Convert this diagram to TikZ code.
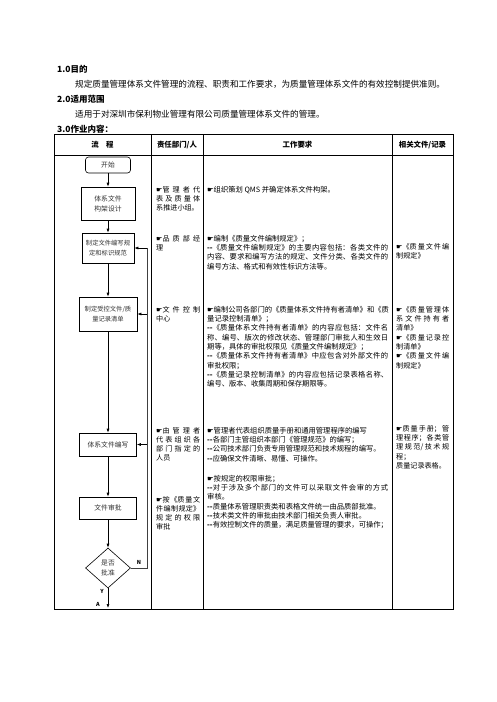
\documentclass[tikz,border=0pt]{standalone}
\usepackage{fontspec}
\setmainfont{Noto Sans CJK SC}
\newfontfamily\symf{DejaVu Sans}
\usetikzlibrary{arrows.meta,shapes.geometric}
\XeTeXlinebreaklocale "zh"
\XeTeXlinebreakskip=0pt plus 3pt
\XeTeXlinebreakpenalty=10000
\newcommand\hd{{\symf\char"261B}}
\newcommand\dd{{\bfseries -{}-}}
\begin{document}
\begin{tikzpicture}[x=1pt,y=-1pt,
  tline/.style={line width=0.9pt},
  flowbox/.style={draw, line width=0.6pt, inner sep=1pt, align=center, font=\fontsize{6.8}{10}\selectfont, text=black!80},
  arr/.style={-{Latex[length=4pt,width=3pt]}, line width=0.6pt},
  loopline/.style={line width=0.6pt, draw=black!75},
  head/.style={font=\fontsize{7.4}{9}\selectfont\bfseries, inner sep=0},
  sect/.style={anchor=west, inner sep=0, font=\fontsize{8.5}{10}\selectfont\bfseries},
  body/.style={anchor=west, inner sep=0, font=\fontsize{8.6}{10}\selectfont},
  ctwo/.style={anchor=north west, inner sep=0, text width=44pt, align=justify, font=\fontsize{7.1}{9.2}\selectfont},
  cthree/.style={anchor=north west, inner sep=0, text width=181pt, align=justify, font=\fontsize{7.3}{9.3}\selectfont},
  cfour/.style={anchor=north west, inner sep=0, text width=53pt, align=justify, font=\fontsize{7.1}{9.3}\selectfont},
  lbl/.style={inner sep=0, font=\fontsize{5.5}{6}\selectfont\bfseries}
]
\useasboundingbox (0,0) rectangle (496,702);
\fill[white] (0,0) rectangle (496,702);

% section texts
\node[sect] (s1) at (57,69) {1.0目的};
\node[body] (t1) at (75,84) {规定质量管理体系文件管理的流程、职责和工作要求，为质量管理体系文件的有效控制提供准则。};
\node[sect] (s2) at (57,99) {2.0适用范围};
\node[body] (t2) at (75,114) {适用于对深圳市保利物业管理有限公司质量管理体系文件的管理。};
\node[sect] (s3) at (57,129) {3.0作业内容：};

% table
\draw[tline] (54,134) rectangle (453,609);
\draw[tline] (54,155) -- (453,155);
\draw[tline] (151,134) -- (151,609);
\draw[tline] (203,134) -- (203,609);
\draw[tline] (392,134) -- (392,609);

\node[head] (h1) at (102.5,145) {流\hspace{1em}程};
\node[head] (h2) at (177,145) {责任部门/人};
\node[head] (h3) at (297.5,145) {工作要求};
\node[head] (h4) at (422.5,145) {相关文件/记录};

% flow chart
\node[flowbox, rounded corners=3pt, minimum width=45pt, minimum height=16pt] (st) at (108,165) {开始};
\node[flowbox, minimum width=54pt, minimum height=33pt] (b2) at (108,203.5) {体系文件\\构架设计};
\node[flowbox, minimum width=52pt, minimum height=30pt, font=\fontsize{6.3}{10}\selectfont] (b3) at (108,248) {制定文件编写规\\定和标识规范};
\node[flowbox, minimum width=58pt, minimum height=34pt, font=\fontsize{6.3}{10}\selectfont] (b4) at (108,314) {制定受控文件/质\\量记录清单};
\node[flowbox, minimum width=57pt, minimum height=23pt] (b5) at (108,444.5) {体系文件编写};
\node[flowbox, minimum width=57pt, minimum height=22pt] (b6) at (108,508) {文件审批};
\node[flowbox, shape=diamond, minimum width=45pt, minimum height=40pt, inner sep=0pt] (dm) at (108,568) {是否\\批准};
\coordinate (lp) at (147,0);
\coordinate (endp) at (108,608);

\draw[arr] (st) -- (b2);
\draw[arr] (b2) -- (b3);
\draw[arr] (b3) -- (b4);
\draw[arr] (b4) -- (b5);
\draw[arr] (b5) -- (b6);
\draw[arr] (b6) -- (dm);
\draw[arr] (dm.south) -- (endp);
\draw[loopline] (dm.east) -- (dm.east -| lp) -- (b3.east -| lp);
\draw[arr] (b3.east -| lp) -- (b3.east);
\draw[arr] (b4.east -| lp) -- (b4.east);
\draw[arr] (b5.east -| lp) -- (b5.east);
\node[lbl] (nl) at (139,562) {N};
\node[lbl] (yl) at (102,591) {Y};
\node[lbl] (al) at (98,604) {A};

% column 2
\node[ctwo] (r1) at (156,186) {\hd 管理者代\linebreak 表及质量体\linebreak 系推进小组。};
\node[ctwo] (r2) at (156,235) {\hd 品质部经\linebreak 理};
\node[ctwo] (r3) at (156,306) {\hd 文件控制\linebreak 中心};
\node[ctwo] (r4) at (156,427) {\hd 由管理者\linebreak 代表组织各\linebreak 部门指定的\linebreak 人员};
\node[ctwo] (r5) at (156,496) {\hd 按《质量文\linebreak 件编制规定》\linebreak 规定的权限\linebreak 审批};

% column 3
\node[cthree] (w1) at (207,186) {\hd 组织策划 QMS 并确定体系文件构架。};
\node[cthree] (w2) at (207,235) {\hd 编制《质量文件编制规定》；\\
\dd《质量文件编制规定》的主要内容包括：各类文件的\linebreak 内容、要求和编写方法的规定、文件分类、各类文件的\linebreak 编号方法、格式和有效性标识方法等。};
\node[cthree] (w3) at (207,306) {\hd 编制公司各部门的《质量体系文件持有者清单》和《质\linebreak 量记录控制清单》；\\
\dd《质量体系文件持有者清单》的内容应包括：文件名\linebreak 称、编号、版次的修改状态、管理部门审批人和生效日\linebreak 期等，具体的审批权限见《质量文件编制规定》；\\
\dd《质量体系文件持有者清单》中应包含对外部文件的\linebreak 审批权限；\\
\dd《质量记录控制清单》的内容应包括记录表格名称、\linebreak 编号、版本、收集周期和保存期限等。};
\node[cthree] (w4) at (207,427) {\hd 管理者代表组织质量手册和通用管理程序的编写\\
\dd 各部门主管组织本部门《管理规范》的编写；\\
\dd 公司技术部门负责专用管理规范和技术规程的编写。\\
\dd 应确保文件清晰、易懂、可操作。};
\node[cthree] (w5) at (207,475) {\hd 按规定的权限审批；\\
\dd 对于涉及多个部门的文件可以采取文件会审的方式\linebreak 审核。\\
\dd 质量体系管理职责类和表格文件统一由品质部批准。\\
\dd 技术类文件的审批由技术部门相关负责人审批。\\
\dd 有效控制文件的质量，满足质量管理的要求，可操作；};

% column 4
\node[cfour] (f2) at (396,243) {\hd《质量文件编\linebreak 制规定》};
\node[cfour] (f3) at (396,306) {\hd《质量管理体\linebreak 系文件持有者\linebreak 清单》\\
\hd《质量记录控\linebreak 制清单》\\
\hd《质量文件编\linebreak 制规定》};
\node[cfour] (f4) at (396,425) {\hd 质量手册；管\linebreak 理程序；各类管\linebreak 理规范/技术规\linebreak 程；\\
质量记录表格。};
\end{tikzpicture}
\end{document}
